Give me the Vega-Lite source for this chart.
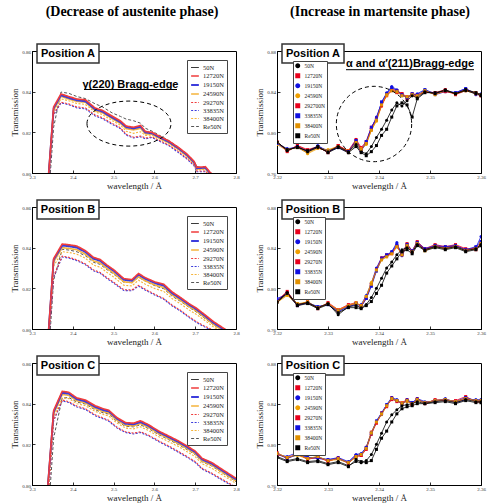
{
"$schema":"https://vega.github.io/schema/vega-lite/v6.json",
"padding":{"left":10,"top":4,"right":2,"bottom":2},
"config":{"font":"Liberation Serif","view":{"stroke":"black","strokeWidth":1},
"legend":{"labelFont":"Liberation Serif","labelColor":"#222","strokeColor":"#444","fillColor":"white","rowPadding":0,"symbolSize":12},
"axis":{"grid":false,"domainColor":"black","domainWidth":1,"tickColor":"black","tickSize":-3,"tickWidth":0.8,"labelFont":"Liberation Serif","labelFontSize":5,"labelColor":"#333","labelPadding":4.5,"labelFlush":false,"titleFont":"Liberation Serif","titleFontSize":9,"titleFontWeight":"normal","titleColor":"#222","titlePadding":2}},
"columns":2,"bounds":"flush","spacing":{"row":34,"column":41},
"resolve":{"scale":{"x":"independent","y":"independent","color":"independent","strokeDash":"independent","strokeWidth":"independent","shape":"independent"}},
"datasets":{
"LA":[
{"s":"Re50N","x":2.345,"y":0.8},{"s":"Re50N","x":2.353,"y":0.8225},{"s":"Re50N","x":2.371,"y":0.8398},{"s":"Re50N","x":2.39,"y":0.8392},{"s":"Re50N","x":2.41,"y":0.8376},{"s":"Re50N","x":2.431,"y":0.8366},{"s":"Re50N","x":2.455,"y":0.834},{"s":"Re50N","x":2.472,"y":0.8326},{"s":"Re50N","x":2.496,"y":0.8296},{"s":"Re50N","x":2.517,"y":0.8278},{"s":"Re50N","x":2.531,"y":0.8265},{"s":"Re50N","x":2.549,"y":0.8257},{"s":"Re50N","x":2.566,"y":0.8245},{"s":"Re50N","x":2.578,"y":0.822},{"s":"Re50N","x":2.594,"y":0.8206},{"s":"Re50N","x":2.61,"y":0.8188},{"s":"Re50N","x":2.635,"y":0.816},{"s":"Re50N","x":2.659,"y":0.8126},{"s":"Re50N","x":2.68,"y":0.8092},{"s":"Re50N","x":2.697,"y":0.8058},{"s":"Re50N","x":2.704,"y":0.8032},{"s":"Re50N","x":2.725,"y":0.8022},{"s":"Re50N","x":2.737,"y":0.8},{"s":"Re50N","x":2.747,"y":0.7985},
{"s":"33835N","x":2.343,"y":0.8},{"s":"33835N","x":2.353,"y":0.8285},{"s":"33835N","x":2.371,"y":0.8345},{"s":"33835N","x":2.39,"y":0.8336},{"s":"33835N","x":2.41,"y":0.832},{"s":"33835N","x":2.431,"y":0.8315},{"s":"33835N","x":2.455,"y":0.828},{"s":"33835N","x":2.472,"y":0.8268},{"s":"33835N","x":2.496,"y":0.824},{"s":"33835N","x":2.517,"y":0.8218},{"s":"33835N","x":2.531,"y":0.8186},{"s":"33835N","x":2.549,"y":0.8172},{"s":"33835N","x":2.566,"y":0.8178},{"s":"33835N","x":2.578,"y":0.8168},{"s":"33835N","x":2.594,"y":0.8175},{"s":"33835N","x":2.61,"y":0.8158},{"s":"33835N","x":2.635,"y":0.8135},{"s":"33835N","x":2.659,"y":0.81},{"s":"33835N","x":2.68,"y":0.8068},{"s":"33835N","x":2.697,"y":0.8036},{"s":"33835N","x":2.704,"y":0.8006},{"s":"33835N","x":2.725,"y":0.8006},{"s":"33835N","x":2.737,"y":0.798},{"s":"33835N","x":2.747,"y":0.7965},
{"s":"29270N","x":2.343,"y":0.8},{"s":"29270N","x":2.353,"y":0.829},{"s":"29270N","x":2.371,"y":0.8348},{"s":"29270N","x":2.39,"y":0.834},{"s":"29270N","x":2.41,"y":0.8325},{"s":"29270N","x":2.431,"y":0.832},{"s":"29270N","x":2.455,"y":0.8285},{"s":"29270N","x":2.472,"y":0.8272},{"s":"29270N","x":2.496,"y":0.8245},{"s":"29270N","x":2.517,"y":0.8222},{"s":"29270N","x":2.531,"y":0.819},{"s":"29270N","x":2.549,"y":0.8176},{"s":"29270N","x":2.566,"y":0.8182},{"s":"29270N","x":2.578,"y":0.8172},{"s":"29270N","x":2.594,"y":0.8178},{"s":"29270N","x":2.61,"y":0.8162},{"s":"29270N","x":2.635,"y":0.8138},{"s":"29270N","x":2.659,"y":0.8105},{"s":"29270N","x":2.68,"y":0.8072},{"s":"29270N","x":2.697,"y":0.804},{"s":"29270N","x":2.704,"y":0.801},{"s":"29270N","x":2.725,"y":0.801},{"s":"29270N","x":2.737,"y":0.7985},{"s":"29270N","x":2.747,"y":0.797},
{"s":"38400N","x":2.342,"y":0.8},{"s":"38400N","x":2.353,"y":0.83},{"s":"38400N","x":2.371,"y":0.8365},{"s":"38400N","x":2.39,"y":0.8355},{"s":"38400N","x":2.41,"y":0.8342},{"s":"38400N","x":2.431,"y":0.8337},{"s":"38400N","x":2.455,"y":0.83},{"s":"38400N","x":2.472,"y":0.8288},{"s":"38400N","x":2.496,"y":0.8258},{"s":"38400N","x":2.517,"y":0.8235},{"s":"38400N","x":2.531,"y":0.8205},{"s":"38400N","x":2.549,"y":0.8195},{"s":"38400N","x":2.566,"y":0.8203},{"s":"38400N","x":2.578,"y":0.8185},{"s":"38400N","x":2.594,"y":0.8186},{"s":"38400N","x":2.61,"y":0.817},{"s":"38400N","x":2.635,"y":0.8146},{"s":"38400N","x":2.659,"y":0.8113},{"s":"38400N","x":2.68,"y":0.808},{"s":"38400N","x":2.697,"y":0.8046},{"s":"38400N","x":2.704,"y":0.8016},{"s":"38400N","x":2.725,"y":0.8018},{"s":"38400N","x":2.737,"y":0.7992},{"s":"38400N","x":2.747,"y":0.7978},
{"s":"24590N","x":2.341,"y":0.8},{"s":"24590N","x":2.353,"y":0.831},{"s":"24590N","x":2.371,"y":0.8377},{"s":"24590N","x":2.39,"y":0.8364},{"s":"24590N","x":2.41,"y":0.8352},{"s":"24590N","x":2.431,"y":0.8348},{"s":"24590N","x":2.455,"y":0.8307},{"s":"24590N","x":2.472,"y":0.8297},{"s":"24590N","x":2.496,"y":0.8268},{"s":"24590N","x":2.517,"y":0.8244},{"s":"24590N","x":2.531,"y":0.8218},{"s":"24590N","x":2.549,"y":0.8212},{"s":"24590N","x":2.566,"y":0.822},{"s":"24590N","x":2.578,"y":0.8193},{"s":"24590N","x":2.594,"y":0.819},{"s":"24590N","x":2.61,"y":0.8174},{"s":"24590N","x":2.635,"y":0.8149},{"s":"24590N","x":2.659,"y":0.8117},{"s":"24590N","x":2.68,"y":0.8084},{"s":"24590N","x":2.697,"y":0.8049},{"s":"24590N","x":2.704,"y":0.8019},{"s":"24590N","x":2.725,"y":0.8022},{"s":"24590N","x":2.737,"y":0.7995},{"s":"24590N","x":2.747,"y":0.798},
{"s":"50N","x":2.341,"y":0.8},{"s":"50N","x":2.353,"y":0.832},{"s":"50N","x":2.371,"y":0.8385},{"s":"50N","x":2.39,"y":0.8372},{"s":"50N","x":2.41,"y":0.836},{"s":"50N","x":2.431,"y":0.8356},{"s":"50N","x":2.455,"y":0.8315},{"s":"50N","x":2.472,"y":0.8305},{"s":"50N","x":2.496,"y":0.8276},{"s":"50N","x":2.517,"y":0.8252},{"s":"50N","x":2.531,"y":0.8228},{"s":"50N","x":2.549,"y":0.8222},{"s":"50N","x":2.566,"y":0.823},{"s":"50N","x":2.578,"y":0.8201},{"s":"50N","x":2.594,"y":0.8197},{"s":"50N","x":2.61,"y":0.818},{"s":"50N","x":2.635,"y":0.8155},{"s":"50N","x":2.659,"y":0.8123},{"s":"50N","x":2.68,"y":0.809},{"s":"50N","x":2.697,"y":0.8055},{"s":"50N","x":2.704,"y":0.8025},{"s":"50N","x":2.725,"y":0.8028},{"s":"50N","x":2.737,"y":0.8},{"s":"50N","x":2.747,"y":0.7985},
{"s":"19150N","x":2.341,"y":0.8},{"s":"19150N","x":2.353,"y":0.8318},{"s":"19150N","x":2.371,"y":0.8382},{"s":"19150N","x":2.39,"y":0.8369},{"s":"19150N","x":2.41,"y":0.8357},{"s":"19150N","x":2.431,"y":0.8352},{"s":"19150N","x":2.455,"y":0.8312},{"s":"19150N","x":2.472,"y":0.8302},{"s":"19150N","x":2.496,"y":0.8273},{"s":"19150N","x":2.517,"y":0.8249},{"s":"19150N","x":2.531,"y":0.8225},{"s":"19150N","x":2.549,"y":0.8219},{"s":"19150N","x":2.566,"y":0.8227},{"s":"19150N","x":2.578,"y":0.8199},{"s":"19150N","x":2.594,"y":0.8195},{"s":"19150N","x":2.61,"y":0.8178},{"s":"19150N","x":2.635,"y":0.8153},{"s":"19150N","x":2.659,"y":0.8121},{"s":"19150N","x":2.68,"y":0.8088},{"s":"19150N","x":2.697,"y":0.8053},{"s":"19150N","x":2.704,"y":0.8023},{"s":"19150N","x":2.725,"y":0.8026},{"s":"19150N","x":2.737,"y":0.7998},{"s":"19150N","x":2.747,"y":0.7983},
{"s":"12720N","x":2.341,"y":0.8},{"s":"12720N","x":2.353,"y":0.8325},{"s":"12720N","x":2.371,"y":0.8389},{"s":"12720N","x":2.39,"y":0.8376},{"s":"12720N","x":2.41,"y":0.8364},{"s":"12720N","x":2.431,"y":0.836},{"s":"12720N","x":2.455,"y":0.8319},{"s":"12720N","x":2.472,"y":0.8309},{"s":"12720N","x":2.496,"y":0.828},{"s":"12720N","x":2.517,"y":0.8256},{"s":"12720N","x":2.531,"y":0.8231},{"s":"12720N","x":2.549,"y":0.8225},{"s":"12720N","x":2.566,"y":0.8234},{"s":"12720N","x":2.578,"y":0.8204},{"s":"12720N","x":2.594,"y":0.82},{"s":"12720N","x":2.61,"y":0.8183},{"s":"12720N","x":2.635,"y":0.8158},{"s":"12720N","x":2.659,"y":0.8126},{"s":"12720N","x":2.68,"y":0.8093},{"s":"12720N","x":2.697,"y":0.8058},{"s":"12720N","x":2.704,"y":0.8028},{"s":"12720N","x":2.725,"y":0.8031},{"s":"12720N","x":2.737,"y":0.8002},{"s":"12720N","x":2.747,"y":0.7987}
],
"LB":[
{"s":"Re50N","x":2.345,"y":0.8},{"s":"Re50N","x":2.353,"y":0.824},{"s":"Re50N","x":2.374,"y":0.8392},{"s":"Re50N","x":2.392,"y":0.8388},{"s":"Re50N","x":2.41,"y":0.838},{"s":"Re50N","x":2.431,"y":0.836},{"s":"Re50N","x":2.451,"y":0.8328},{"s":"Re50N","x":2.467,"y":0.8318},{"s":"Re50N","x":2.484,"y":0.8292},{"s":"Re50N","x":2.5,"y":0.827},{"s":"Re50N","x":2.525,"y":0.823},{"s":"Re50N","x":2.545,"y":0.8228},{"s":"Re50N","x":2.561,"y":0.8255},{"s":"Re50N","x":2.578,"y":0.8235},{"s":"Re50N","x":2.602,"y":0.8212},{"s":"Re50N","x":2.623,"y":0.8198},{"s":"Re50N","x":2.643,"y":0.8162},{"s":"Re50N","x":2.664,"y":0.8136},{"s":"Re50N","x":2.684,"y":0.8108},{"s":"Re50N","x":2.704,"y":0.8082},{"s":"Re50N","x":2.725,"y":0.805},{"s":"Re50N","x":2.745,"y":0.802},{"s":"Re50N","x":2.77,"y":0.7988},{"s":"Re50N","x":2.785,"y":0.797},
{"s":"33835N","x":2.343,"y":0.8},{"s":"33835N","x":2.353,"y":0.8255},{"s":"33835N","x":2.374,"y":0.8354},{"s":"33835N","x":2.392,"y":0.8348},{"s":"33835N","x":2.41,"y":0.8336},{"s":"33835N","x":2.431,"y":0.8316},{"s":"33835N","x":2.451,"y":0.8286},{"s":"33835N","x":2.467,"y":0.8274},{"s":"33835N","x":2.484,"y":0.8248},{"s":"33835N","x":2.5,"y":0.8226},{"s":"33835N","x":2.525,"y":0.8189},{"s":"33835N","x":2.545,"y":0.8188},{"s":"33835N","x":2.561,"y":0.8211},{"s":"33835N","x":2.578,"y":0.8191},{"s":"33835N","x":2.602,"y":0.8166},{"s":"33835N","x":2.623,"y":0.8146},{"s":"33835N","x":2.643,"y":0.8114},{"s":"33835N","x":2.664,"y":0.8088},{"s":"33835N","x":2.684,"y":0.8058},{"s":"33835N","x":2.704,"y":0.8031},{"s":"33835N","x":2.725,"y":0.8008},{"s":"33835N","x":2.745,"y":0.799},{"s":"33835N","x":2.77,"y":0.7965},{"s":"33835N","x":2.785,"y":0.7955},
{"s":"29270N","x":2.343,"y":0.8},{"s":"29270N","x":2.353,"y":0.826},{"s":"29270N","x":2.374,"y":0.8358},{"s":"29270N","x":2.392,"y":0.8352},{"s":"29270N","x":2.41,"y":0.834},{"s":"29270N","x":2.431,"y":0.832},{"s":"29270N","x":2.451,"y":0.829},{"s":"29270N","x":2.467,"y":0.8278},{"s":"29270N","x":2.484,"y":0.8252},{"s":"29270N","x":2.5,"y":0.823},{"s":"29270N","x":2.525,"y":0.8193},{"s":"29270N","x":2.545,"y":0.8192},{"s":"29270N","x":2.561,"y":0.8215},{"s":"29270N","x":2.578,"y":0.8195},{"s":"29270N","x":2.602,"y":0.817},{"s":"29270N","x":2.623,"y":0.815},{"s":"29270N","x":2.643,"y":0.8118},{"s":"29270N","x":2.664,"y":0.8092},{"s":"29270N","x":2.684,"y":0.8062},{"s":"29270N","x":2.704,"y":0.8035},{"s":"29270N","x":2.725,"y":0.8012},{"s":"29270N","x":2.745,"y":0.7995},{"s":"29270N","x":2.77,"y":0.797},{"s":"29270N","x":2.785,"y":0.796},
{"s":"38400N","x":2.342,"y":0.8},{"s":"38400N","x":2.353,"y":0.831},{"s":"38400N","x":2.374,"y":0.838},{"s":"38400N","x":2.392,"y":0.8376},{"s":"38400N","x":2.41,"y":0.8368},{"s":"38400N","x":2.431,"y":0.8348},{"s":"38400N","x":2.451,"y":0.8314},{"s":"38400N","x":2.467,"y":0.8304},{"s":"38400N","x":2.484,"y":0.8278},{"s":"38400N","x":2.5,"y":0.8256},{"s":"38400N","x":2.525,"y":0.8215},{"s":"38400N","x":2.545,"y":0.8212},{"s":"38400N","x":2.561,"y":0.824},{"s":"38400N","x":2.578,"y":0.822},{"s":"38400N","x":2.602,"y":0.8198},{"s":"38400N","x":2.623,"y":0.8185},{"s":"38400N","x":2.643,"y":0.815},{"s":"38400N","x":2.664,"y":0.8124},{"s":"38400N","x":2.684,"y":0.8095},{"s":"38400N","x":2.704,"y":0.807},{"s":"38400N","x":2.725,"y":0.804},{"s":"38400N","x":2.745,"y":0.801},{"s":"38400N","x":2.77,"y":0.798},{"s":"38400N","x":2.785,"y":0.7965},
{"s":"24590N","x":2.341,"y":0.8},{"s":"24590N","x":2.353,"y":0.833},{"s":"24590N","x":2.374,"y":0.84},{"s":"24590N","x":2.392,"y":0.8396},{"s":"24590N","x":2.41,"y":0.839},{"s":"24590N","x":2.431,"y":0.8368},{"s":"24590N","x":2.451,"y":0.8335},{"s":"24590N","x":2.467,"y":0.8325},{"s":"24590N","x":2.484,"y":0.8298},{"s":"24590N","x":2.5,"y":0.8276},{"s":"24590N","x":2.525,"y":0.8232},{"s":"24590N","x":2.545,"y":0.8228},{"s":"24590N","x":2.561,"y":0.8257},{"s":"24590N","x":2.578,"y":0.8237},{"s":"24590N","x":2.602,"y":0.8216},{"s":"24590N","x":2.623,"y":0.8204},{"s":"24590N","x":2.643,"y":0.8168},{"s":"24590N","x":2.664,"y":0.8141},{"s":"24590N","x":2.684,"y":0.8112},{"s":"24590N","x":2.704,"y":0.8087},{"s":"24590N","x":2.725,"y":0.8054},{"s":"24590N","x":2.745,"y":0.8022},{"s":"24590N","x":2.77,"y":0.799},{"s":"24590N","x":2.785,"y":0.7972},
{"s":"50N","x":2.341,"y":0.8},{"s":"50N","x":2.353,"y":0.8343},{"s":"50N","x":2.374,"y":0.8414},{"s":"50N","x":2.392,"y":0.841},{"s":"50N","x":2.41,"y":0.8404},{"s":"50N","x":2.431,"y":0.8381},{"s":"50N","x":2.451,"y":0.8348},{"s":"50N","x":2.467,"y":0.8338},{"s":"50N","x":2.484,"y":0.8311},{"s":"50N","x":2.5,"y":0.8289},{"s":"50N","x":2.525,"y":0.8245},{"s":"50N","x":2.545,"y":0.824},{"s":"50N","x":2.561,"y":0.827},{"s":"50N","x":2.578,"y":0.825},{"s":"50N","x":2.602,"y":0.8229},{"s":"50N","x":2.623,"y":0.8217},{"s":"50N","x":2.643,"y":0.818},{"s":"50N","x":2.664,"y":0.8152},{"s":"50N","x":2.684,"y":0.8123},{"s":"50N","x":2.704,"y":0.8098},{"s":"50N","x":2.725,"y":0.8065},{"s":"50N","x":2.745,"y":0.8033},{"s":"50N","x":2.77,"y":0.8},{"s":"50N","x":2.785,"y":0.798},
{"s":"19150N","x":2.341,"y":0.8},{"s":"19150N","x":2.353,"y":0.834},{"s":"19150N","x":2.374,"y":0.841},{"s":"19150N","x":2.392,"y":0.8406},{"s":"19150N","x":2.41,"y":0.84},{"s":"19150N","x":2.431,"y":0.8378},{"s":"19150N","x":2.451,"y":0.8345},{"s":"19150N","x":2.467,"y":0.8335},{"s":"19150N","x":2.484,"y":0.8308},{"s":"19150N","x":2.5,"y":0.8286},{"s":"19150N","x":2.525,"y":0.8242},{"s":"19150N","x":2.545,"y":0.8237},{"s":"19150N","x":2.561,"y":0.8267},{"s":"19150N","x":2.578,"y":0.8246},{"s":"19150N","x":2.602,"y":0.8225},{"s":"19150N","x":2.623,"y":0.8213},{"s":"19150N","x":2.643,"y":0.8176},{"s":"19150N","x":2.664,"y":0.8149},{"s":"19150N","x":2.684,"y":0.812},{"s":"19150N","x":2.704,"y":0.8095},{"s":"19150N","x":2.725,"y":0.8062},{"s":"19150N","x":2.745,"y":0.803},{"s":"19150N","x":2.77,"y":0.7997},{"s":"19150N","x":2.785,"y":0.7977},
{"s":"12720N","x":2.341,"y":0.8},{"s":"12720N","x":2.353,"y":0.8346},{"s":"12720N","x":2.374,"y":0.8418},{"s":"12720N","x":2.392,"y":0.8414},{"s":"12720N","x":2.41,"y":0.8408},{"s":"12720N","x":2.431,"y":0.8385},{"s":"12720N","x":2.451,"y":0.8352},{"s":"12720N","x":2.467,"y":0.8342},{"s":"12720N","x":2.484,"y":0.8314},{"s":"12720N","x":2.5,"y":0.8292},{"s":"12720N","x":2.525,"y":0.8248},{"s":"12720N","x":2.545,"y":0.8243},{"s":"12720N","x":2.561,"y":0.8273},{"s":"12720N","x":2.578,"y":0.8252},{"s":"12720N","x":2.602,"y":0.8231},{"s":"12720N","x":2.623,"y":0.822},{"s":"12720N","x":2.643,"y":0.8183},{"s":"12720N","x":2.664,"y":0.8155},{"s":"12720N","x":2.684,"y":0.8126},{"s":"12720N","x":2.704,"y":0.8101},{"s":"12720N","x":2.725,"y":0.8068},{"s":"12720N","x":2.745,"y":0.8036},{"s":"12720N","x":2.77,"y":0.8003},{"s":"12720N","x":2.785,"y":0.7983}
],
"LC":[
{"s":"Re50N","x":2.345,"y":0.8},{"s":"Re50N","x":2.353,"y":0.823},{"s":"Re50N","x":2.374,"y":0.8428},{"s":"Re50N","x":2.39,"y":0.843},{"s":"Re50N","x":2.41,"y":0.8408},{"s":"Re50N","x":2.431,"y":0.8398},{"s":"Re50N","x":2.455,"y":0.837},{"s":"Re50N","x":2.476,"y":0.8354},{"s":"Re50N","x":2.488,"y":0.8349},{"s":"Re50N","x":2.508,"y":0.8313},{"s":"Re50N","x":2.529,"y":0.8289},{"s":"Re50N","x":2.549,"y":0.8286},{"s":"Re50N","x":2.566,"y":0.8296},{"s":"Re50N","x":2.586,"y":0.8277},{"s":"Re50N","x":2.61,"y":0.8248},{"s":"Re50N","x":2.635,"y":0.8223},{"s":"Re50N","x":2.659,"y":0.8199},{"s":"Re50N","x":2.68,"y":0.8174},{"s":"Re50N","x":2.7,"y":0.815},{"s":"Re50N","x":2.717,"y":0.8114},{"s":"Re50N","x":2.741,"y":0.8093},{"s":"Re50N","x":2.766,"y":0.806},{"s":"Re50N","x":2.8,"y":0.8016},
{"s":"33835N","x":2.342,"y":0.8},{"s":"33835N","x":2.353,"y":0.8315},{"s":"33835N","x":2.374,"y":0.8414},{"s":"33835N","x":2.39,"y":0.8406},{"s":"33835N","x":2.41,"y":0.8384},{"s":"33835N","x":2.431,"y":0.8371},{"s":"33835N","x":2.455,"y":0.8341},{"s":"33835N","x":2.476,"y":0.8324},{"s":"33835N","x":2.488,"y":0.8314},{"s":"33835N","x":2.508,"y":0.8281},{"s":"33835N","x":2.529,"y":0.8258},{"s":"33835N","x":2.549,"y":0.8251},{"s":"33835N","x":2.566,"y":0.8258},{"s":"33835N","x":2.586,"y":0.8241},{"s":"33835N","x":2.61,"y":0.8214},{"s":"33835N","x":2.635,"y":0.8188},{"s":"33835N","x":2.659,"y":0.8161},{"s":"33835N","x":2.68,"y":0.8136},{"s":"33835N","x":2.7,"y":0.8111},{"s":"33835N","x":2.717,"y":0.8078},{"s":"33835N","x":2.741,"y":0.8054},{"s":"33835N","x":2.766,"y":0.8024},{"s":"33835N","x":2.8,"y":0.7985},
{"s":"29270N","x":2.342,"y":0.8},{"s":"29270N","x":2.353,"y":0.832},{"s":"29270N","x":2.374,"y":0.8418},{"s":"29270N","x":2.39,"y":0.841},{"s":"29270N","x":2.41,"y":0.8388},{"s":"29270N","x":2.431,"y":0.8375},{"s":"29270N","x":2.455,"y":0.8345},{"s":"29270N","x":2.476,"y":0.8328},{"s":"29270N","x":2.488,"y":0.8318},{"s":"29270N","x":2.508,"y":0.8285},{"s":"29270N","x":2.529,"y":0.8262},{"s":"29270N","x":2.549,"y":0.8255},{"s":"29270N","x":2.566,"y":0.8262},{"s":"29270N","x":2.586,"y":0.8245},{"s":"29270N","x":2.61,"y":0.8218},{"s":"29270N","x":2.635,"y":0.8192},{"s":"29270N","x":2.659,"y":0.8165},{"s":"29270N","x":2.68,"y":0.814},{"s":"29270N","x":2.7,"y":0.8115},{"s":"29270N","x":2.717,"y":0.8082},{"s":"29270N","x":2.741,"y":0.8058},{"s":"29270N","x":2.766,"y":0.8028},{"s":"29270N","x":2.8,"y":0.799},
{"s":"38400N","x":2.341,"y":0.8},{"s":"38400N","x":2.353,"y":0.8335},{"s":"38400N","x":2.374,"y":0.8428},{"s":"38400N","x":2.39,"y":0.8425},{"s":"38400N","x":2.41,"y":0.84},{"s":"38400N","x":2.431,"y":0.839},{"s":"38400N","x":2.455,"y":0.8362},{"s":"38400N","x":2.476,"y":0.8346},{"s":"38400N","x":2.488,"y":0.834},{"s":"38400N","x":2.508,"y":0.8305},{"s":"38400N","x":2.529,"y":0.828},{"s":"38400N","x":2.549,"y":0.8276},{"s":"38400N","x":2.566,"y":0.8286},{"s":"38400N","x":2.586,"y":0.8268},{"s":"38400N","x":2.61,"y":0.8238},{"s":"38400N","x":2.635,"y":0.8213},{"s":"38400N","x":2.659,"y":0.8189},{"s":"38400N","x":2.68,"y":0.8164},{"s":"38400N","x":2.7,"y":0.8139},{"s":"38400N","x":2.717,"y":0.8104},{"s":"38400N","x":2.741,"y":0.8082},{"s":"38400N","x":2.766,"y":0.805},{"s":"38400N","x":2.8,"y":0.8008},
{"s":"24590N","x":2.339,"y":0.8},{"s":"24590N","x":2.353,"y":0.835},{"s":"24590N","x":2.374,"y":0.8445},{"s":"24590N","x":2.39,"y":0.8441},{"s":"24590N","x":2.41,"y":0.8414},{"s":"24590N","x":2.431,"y":0.8404},{"s":"24590N","x":2.455,"y":0.8376},{"s":"24590N","x":2.476,"y":0.836},{"s":"24590N","x":2.488,"y":0.8355},{"s":"24590N","x":2.508,"y":0.8319},{"s":"24590N","x":2.529,"y":0.8294},{"s":"24590N","x":2.549,"y":0.8291},{"s":"24590N","x":2.566,"y":0.8302},{"s":"24590N","x":2.586,"y":0.8283},{"s":"24590N","x":2.61,"y":0.8253},{"s":"24590N","x":2.635,"y":0.8228},{"s":"24590N","x":2.659,"y":0.8204},{"s":"24590N","x":2.68,"y":0.8179},{"s":"24590N","x":2.7,"y":0.8154},{"s":"24590N","x":2.717,"y":0.8118},{"s":"24590N","x":2.741,"y":0.8097},{"s":"24590N","x":2.766,"y":0.8064},{"s":"24590N","x":2.8,"y":0.802},
{"s":"50N","x":2.339,"y":0.8},{"s":"50N","x":2.353,"y":0.8362},{"s":"50N","x":2.374,"y":0.8457},{"s":"50N","x":2.39,"y":0.8452},{"s":"50N","x":2.41,"y":0.8424},{"s":"50N","x":2.431,"y":0.8414},{"s":"50N","x":2.455,"y":0.8386},{"s":"50N","x":2.476,"y":0.837},{"s":"50N","x":2.488,"y":0.8365},{"s":"50N","x":2.508,"y":0.8329},{"s":"50N","x":2.529,"y":0.8304},{"s":"50N","x":2.549,"y":0.8301},{"s":"50N","x":2.566,"y":0.8312},{"s":"50N","x":2.586,"y":0.8293},{"s":"50N","x":2.61,"y":0.8263},{"s":"50N","x":2.635,"y":0.8238},{"s":"50N","x":2.659,"y":0.8214},{"s":"50N","x":2.68,"y":0.8189},{"s":"50N","x":2.7,"y":0.8164},{"s":"50N","x":2.717,"y":0.8128},{"s":"50N","x":2.741,"y":0.8107},{"s":"50N","x":2.766,"y":0.8074},{"s":"50N","x":2.8,"y":0.803},
{"s":"19150N","x":2.339,"y":0.8},{"s":"19150N","x":2.353,"y":0.8358},{"s":"19150N","x":2.374,"y":0.8453},{"s":"19150N","x":2.39,"y":0.8449},{"s":"19150N","x":2.41,"y":0.8421},{"s":"19150N","x":2.431,"y":0.841},{"s":"19150N","x":2.455,"y":0.8383},{"s":"19150N","x":2.476,"y":0.8367},{"s":"19150N","x":2.488,"y":0.8362},{"s":"19150N","x":2.508,"y":0.8326},{"s":"19150N","x":2.529,"y":0.8301},{"s":"19150N","x":2.549,"y":0.8298},{"s":"19150N","x":2.566,"y":0.8309},{"s":"19150N","x":2.586,"y":0.829},{"s":"19150N","x":2.61,"y":0.826},{"s":"19150N","x":2.635,"y":0.8235},{"s":"19150N","x":2.659,"y":0.8211},{"s":"19150N","x":2.68,"y":0.8186},{"s":"19150N","x":2.7,"y":0.8161},{"s":"19150N","x":2.717,"y":0.8125},{"s":"19150N","x":2.741,"y":0.8104},{"s":"19150N","x":2.766,"y":0.8071},{"s":"19150N","x":2.8,"y":0.8027},
{"s":"12720N","x":2.339,"y":0.8},{"s":"12720N","x":2.353,"y":0.8366},{"s":"12720N","x":2.374,"y":0.8461},{"s":"12720N","x":2.39,"y":0.8456},{"s":"12720N","x":2.41,"y":0.8428},{"s":"12720N","x":2.431,"y":0.8418},{"s":"12720N","x":2.455,"y":0.839},{"s":"12720N","x":2.476,"y":0.8374},{"s":"12720N","x":2.488,"y":0.8368},{"s":"12720N","x":2.508,"y":0.8332},{"s":"12720N","x":2.529,"y":0.8307},{"s":"12720N","x":2.549,"y":0.8304},{"s":"12720N","x":2.566,"y":0.8316},{"s":"12720N","x":2.586,"y":0.8296},{"s":"12720N","x":2.61,"y":0.8266},{"s":"12720N","x":2.635,"y":0.8241},{"s":"12720N","x":2.659,"y":0.8217},{"s":"12720N","x":2.68,"y":0.8192},{"s":"12720N","x":2.7,"y":0.8167},{"s":"12720N","x":2.717,"y":0.8131},{"s":"12720N","x":2.741,"y":0.811},{"s":"12720N","x":2.766,"y":0.8077},{"s":"12720N","x":2.8,"y":0.8033}
],
"RA":[
{"s":"12720N","x":2.32,"y":0.791},{"s":"12720N","x":2.322,"y":0.781},{"s":"12720N","x":2.324,"y":0.787},{"s":"12720N","x":2.326,"y":0.783},{"s":"12720N","x":2.328,"y":0.786},{"s":"12720N","x":2.33,"y":0.78},{"s":"12720N","x":2.332,"y":0.787},{"s":"12720N","x":2.334,"y":0.782},{"s":"12720N","x":2.3355,"y":0.793},{"s":"12720N","x":2.3365,"y":0.785},{"s":"12720N","x":2.3375,"y":0.791},{"s":"12720N","x":2.3385,"y":0.805},{"s":"12720N","x":2.3395,"y":0.814},{"s":"12720N","x":2.3405,"y":0.828},{"s":"12720N","x":2.3415,"y":0.836},{"s":"12720N","x":2.3425,"y":0.841},{"s":"12720N","x":2.3435,"y":0.839},{"s":"12720N","x":2.3445,"y":0.838},{"s":"12720N","x":2.3455,"y":0.833},{"s":"12720N","x":2.3465,"y":0.838},{"s":"12720N","x":2.3475,"y":0.837},{"s":"12720N","x":2.349,"y":0.84},{"s":"12720N","x":2.351,"y":0.839},{"s":"12720N","x":2.353,"y":0.842},{"s":"12720N","x":2.355,"y":0.837},{"s":"12720N","x":2.357,"y":0.841},{"s":"12720N","x":2.359,"y":0.839},{"s":"12720N","x":2.36,"y":0.836},
{"s":"19150N","x":2.32,"y":0.789},{"s":"19150N","x":2.322,"y":0.784},{"s":"19150N","x":2.324,"y":0.785},{"s":"19150N","x":2.326,"y":0.78},{"s":"19150N","x":2.328,"y":0.787},{"s":"19150N","x":2.33,"y":0.781},{"s":"19150N","x":2.332,"y":0.785},{"s":"19150N","x":2.334,"y":0.78},{"s":"19150N","x":2.3355,"y":0.791},{"s":"19150N","x":2.3365,"y":0.782},{"s":"19150N","x":2.3375,"y":0.789},{"s":"19150N","x":2.3385,"y":0.804},{"s":"19150N","x":2.3395,"y":0.815},{"s":"19150N","x":2.3405,"y":0.829},{"s":"19150N","x":2.3415,"y":0.839},{"s":"19150N","x":2.3425,"y":0.845},{"s":"19150N","x":2.3435,"y":0.842},{"s":"19150N","x":2.3445,"y":0.836},{"s":"19150N","x":2.3455,"y":0.835},{"s":"19150N","x":2.3465,"y":0.836},{"s":"19150N","x":2.3475,"y":0.838},{"s":"19150N","x":2.349,"y":0.842},{"s":"19150N","x":2.351,"y":0.837},{"s":"19150N","x":2.353,"y":0.84},{"s":"19150N","x":2.355,"y":0.839},{"s":"19150N","x":2.357,"y":0.843},{"s":"19150N","x":2.359,"y":0.837},{"s":"19150N","x":2.36,"y":0.838},
{"s":"24590N","x":2.32,"y":0.788},{"s":"24590N","x":2.322,"y":0.782},{"s":"24590N","x":2.324,"y":0.786},{"s":"24590N","x":2.326,"y":0.779},{"s":"24590N","x":2.328,"y":0.784},{"s":"24590N","x":2.33,"y":0.783},{"s":"24590N","x":2.332,"y":0.786},{"s":"24590N","x":2.334,"y":0.782},{"s":"24590N","x":2.3355,"y":0.791},{"s":"24590N","x":2.3365,"y":0.784},{"s":"24590N","x":2.3375,"y":0.788},{"s":"24590N","x":2.3385,"y":0.802},{"s":"24590N","x":2.3395,"y":0.811},{"s":"24590N","x":2.3405,"y":0.826},{"s":"24590N","x":2.3415,"y":0.836},{"s":"24590N","x":2.3425,"y":0.841},{"s":"24590N","x":2.3435,"y":0.84},{"s":"24590N","x":2.3445,"y":0.837},{"s":"24590N","x":2.3455,"y":0.834},{"s":"24590N","x":2.3465,"y":0.836},{"s":"24590N","x":2.3475,"y":0.835},{"s":"24590N","x":2.349,"y":0.841},{"s":"24590N","x":2.351,"y":0.838},{"s":"24590N","x":2.353,"y":0.841},{"s":"24590N","x":2.355,"y":0.838},{"s":"24590N","x":2.357,"y":0.842},{"s":"24590N","x":2.359,"y":0.839},{"s":"24590N","x":2.36,"y":0.837},
{"s":"29270N","x":2.32,"y":0.79},{"s":"29270N","x":2.322,"y":0.782},{"s":"29270N","x":2.324,"y":0.787},{"s":"29270N","x":2.326,"y":0.782},{"s":"29270N","x":2.328,"y":0.785},{"s":"29270N","x":2.33,"y":0.781},{"s":"29270N","x":2.332,"y":0.787},{"s":"29270N","x":2.334,"y":0.781},{"s":"29270N","x":2.3355,"y":0.792},{"s":"29270N","x":2.3365,"y":0.783},{"s":"29270N","x":2.3375,"y":0.79},{"s":"29270N","x":2.3385,"y":0.803},{"s":"29270N","x":2.3395,"y":0.813},{"s":"29270N","x":2.3405,"y":0.826},{"s":"29270N","x":2.3415,"y":0.837},{"s":"29270N","x":2.3425,"y":0.842},{"s":"29270N","x":2.3435,"y":0.841},{"s":"29270N","x":2.3445,"y":0.838},{"s":"29270N","x":2.3455,"y":0.835},{"s":"29270N","x":2.3465,"y":0.837},{"s":"29270N","x":2.3475,"y":0.836},{"s":"29270N","x":2.349,"y":0.84},{"s":"29270N","x":2.351,"y":0.838},{"s":"29270N","x":2.353,"y":0.84},{"s":"29270N","x":2.355,"y":0.838},{"s":"29270N","x":2.357,"y":0.842},{"s":"29270N","x":2.359,"y":0.838},{"s":"29270N","x":2.36,"y":0.836},
{"s":"33835N","x":2.32,"y":0.789},{"s":"33835N","x":2.322,"y":0.783},{"s":"33835N","x":2.324,"y":0.786},{"s":"33835N","x":2.326,"y":0.781},{"s":"33835N","x":2.328,"y":0.786},{"s":"33835N","x":2.33,"y":0.782},{"s":"33835N","x":2.332,"y":0.785},{"s":"33835N","x":2.334,"y":0.781},{"s":"33835N","x":2.3355,"y":0.792},{"s":"33835N","x":2.3365,"y":0.782},{"s":"33835N","x":2.3375,"y":0.791},{"s":"33835N","x":2.3385,"y":0.805},{"s":"33835N","x":2.3395,"y":0.813},{"s":"33835N","x":2.3405,"y":0.83},{"s":"33835N","x":2.3415,"y":0.838},{"s":"33835N","x":2.3425,"y":0.844},{"s":"33835N","x":2.3435,"y":0.841},{"s":"33835N","x":2.3445,"y":0.837},{"s":"33835N","x":2.3455,"y":0.834},{"s":"33835N","x":2.3465,"y":0.838},{"s":"33835N","x":2.3475,"y":0.836},{"s":"33835N","x":2.349,"y":0.842},{"s":"33835N","x":2.351,"y":0.838},{"s":"33835N","x":2.353,"y":0.841},{"s":"33835N","x":2.355,"y":0.839},{"s":"33835N","x":2.357,"y":0.843},{"s":"33835N","x":2.359,"y":0.838},{"s":"33835N","x":2.36,"y":0.837},
{"s":"38400N","x":2.32,"y":0.79},{"s":"38400N","x":2.322,"y":0.783},{"s":"38400N","x":2.324,"y":0.785},{"s":"38400N","x":2.326,"y":0.78},{"s":"38400N","x":2.328,"y":0.785},{"s":"38400N","x":2.33,"y":0.782},{"s":"38400N","x":2.332,"y":0.786},{"s":"38400N","x":2.334,"y":0.78},{"s":"38400N","x":2.3355,"y":0.79},{"s":"38400N","x":2.3365,"y":0.783},{"s":"38400N","x":2.3375,"y":0.789},{"s":"38400N","x":2.3385,"y":0.802},{"s":"38400N","x":2.3395,"y":0.812},{"s":"38400N","x":2.3405,"y":0.827},{"s":"38400N","x":2.3415,"y":0.837},{"s":"38400N","x":2.3425,"y":0.841},{"s":"38400N","x":2.3435,"y":0.84},{"s":"38400N","x":2.3445,"y":0.836},{"s":"38400N","x":2.3455,"y":0.835},{"s":"38400N","x":2.3465,"y":0.837},{"s":"38400N","x":2.3475,"y":0.836},{"s":"38400N","x":2.349,"y":0.841},{"s":"38400N","x":2.351,"y":0.837},{"s":"38400N","x":2.353,"y":0.841},{"s":"38400N","x":2.355,"y":0.838},{"s":"38400N","x":2.357,"y":0.841},{"s":"38400N","x":2.359,"y":0.838},{"s":"38400N","x":2.36,"y":0.837},
{"s":"50N","x":2.32,"y":0.791},{"s":"50N","x":2.322,"y":0.782},{"s":"50N","x":2.324,"y":0.786},{"s":"50N","x":2.326,"y":0.781},{"s":"50N","x":2.328,"y":0.785},{"s":"50N","x":2.33,"y":0.781},{"s":"50N","x":2.332,"y":0.786},{"s":"50N","x":2.334,"y":0.781},{"s":"50N","x":2.3355,"y":0.788},{"s":"50N","x":2.3365,"y":0.781},{"s":"50N","x":2.3375,"y":0.779},{"s":"50N","x":2.3385,"y":0.786},{"s":"50N","x":2.3395,"y":0.795},{"s":"50N","x":2.3405,"y":0.803},{"s":"50N","x":2.3415,"y":0.812},{"s":"50N","x":2.3425,"y":0.822},{"s":"50N","x":2.3435,"y":0.829},{"s":"50N","x":2.3445,"y":0.826},{"s":"50N","x":2.3455,"y":0.831},{"s":"50N","x":2.3465,"y":0.836},{"s":"50N","x":2.3475,"y":0.834},{"s":"50N","x":2.349,"y":0.84},{"s":"50N","x":2.351,"y":0.838},{"s":"50N","x":2.353,"y":0.842},{"s":"50N","x":2.355,"y":0.838},{"s":"50N","x":2.357,"y":0.841},{"s":"50N","x":2.359,"y":0.838},{"s":"50N","x":2.36,"y":0.836},
{"s":"Re50N","x":2.32,"y":0.79},{"s":"Re50N","x":2.322,"y":0.783},{"s":"Re50N","x":2.324,"y":0.785},{"s":"Re50N","x":2.326,"y":0.782},{"s":"Re50N","x":2.328,"y":0.786},{"s":"Re50N","x":2.33,"y":0.78},{"s":"Re50N","x":2.332,"y":0.785},{"s":"Re50N","x":2.334,"y":0.78},{"s":"Re50N","x":2.3355,"y":0.786},{"s":"Re50N","x":2.3365,"y":0.78},{"s":"Re50N","x":2.3375,"y":0.777},{"s":"Re50N","x":2.3385,"y":0.781},{"s":"Re50N","x":2.3395,"y":0.787},{"s":"Re50N","x":2.3405,"y":0.797},{"s":"Re50N","x":2.3415,"y":0.803},{"s":"Re50N","x":2.3425,"y":0.815},{"s":"Re50N","x":2.3435,"y":0.826},{"s":"Re50N","x":2.3445,"y":0.829},{"s":"Re50N","x":2.3455,"y":0.827},{"s":"Re50N","x":2.3465,"y":0.815},{"s":"Re50N","x":2.3475,"y":0.833},{"s":"Re50N","x":2.349,"y":0.839},{"s":"Re50N","x":2.351,"y":0.839},{"s":"Re50N","x":2.353,"y":0.841},{"s":"Re50N","x":2.355,"y":0.838},{"s":"Re50N","x":2.357,"y":0.842},{"s":"Re50N","x":2.359,"y":0.839},{"s":"Re50N","x":2.36,"y":0.837}
],
"RB":[
{"s":"12720N","x":2.32,"y":0.788},{"s":"12720N","x":2.322,"y":0.797},{"s":"12720N","x":2.324,"y":0.783},{"s":"12720N","x":2.326,"y":0.787},{"s":"12720N","x":2.328,"y":0.78},{"s":"12720N","x":2.33,"y":0.786},{"s":"12720N","x":2.332,"y":0.779},{"s":"12720N","x":2.334,"y":0.784},{"s":"12720N","x":2.3355,"y":0.786},{"s":"12720N","x":2.3365,"y":0.782},{"s":"12720N","x":2.3375,"y":0.79},{"s":"12720N","x":2.3385,"y":0.804},{"s":"12720N","x":2.3395,"y":0.819},{"s":"12720N","x":2.3405,"y":0.83},{"s":"12720N","x":2.3415,"y":0.833},{"s":"12720N","x":2.3425,"y":0.834},{"s":"12720N","x":2.3435,"y":0.841},{"s":"12720N","x":2.3445,"y":0.834},{"s":"12720N","x":2.3455,"y":0.844},{"s":"12720N","x":2.3465,"y":0.837},{"s":"12720N","x":2.3475,"y":0.846},{"s":"12720N","x":2.349,"y":0.839},{"s":"12720N","x":2.351,"y":0.843},{"s":"12720N","x":2.353,"y":0.841},{"s":"12720N","x":2.355,"y":0.843},{"s":"12720N","x":2.357,"y":0.839},{"s":"12720N","x":2.359,"y":0.838},{"s":"12720N","x":2.36,"y":0.844},
{"s":"19150N","x":2.32,"y":0.79},{"s":"19150N","x":2.322,"y":0.794},{"s":"19150N","x":2.324,"y":0.785},{"s":"19150N","x":2.326,"y":0.785},{"s":"19150N","x":2.328,"y":0.782},{"s":"19150N","x":2.33,"y":0.784},{"s":"19150N","x":2.332,"y":0.777},{"s":"19150N","x":2.334,"y":0.782},{"s":"19150N","x":2.3355,"y":0.784},{"s":"19150N","x":2.3365,"y":0.784},{"s":"19150N","x":2.3375,"y":0.793},{"s":"19150N","x":2.3385,"y":0.805},{"s":"19150N","x":2.3395,"y":0.82},{"s":"19150N","x":2.3405,"y":0.83},{"s":"19150N","x":2.3415,"y":0.832},{"s":"19150N","x":2.3425,"y":0.836},{"s":"19150N","x":2.3435,"y":0.845},{"s":"19150N","x":2.3445,"y":0.832},{"s":"19150N","x":2.3455,"y":0.842},{"s":"19150N","x":2.3465,"y":0.835},{"s":"19150N","x":2.3475,"y":0.844},{"s":"19150N","x":2.349,"y":0.838},{"s":"19150N","x":2.351,"y":0.841},{"s":"19150N","x":2.353,"y":0.84},{"s":"19150N","x":2.355,"y":0.842},{"s":"19150N","x":2.357,"y":0.837},{"s":"19150N","x":2.359,"y":0.84},{"s":"19150N","x":2.36,"y":0.851},
{"s":"24590N","x":2.32,"y":0.786},{"s":"24590N","x":2.322,"y":0.793},{"s":"24590N","x":2.324,"y":0.784},{"s":"24590N","x":2.326,"y":0.787},{"s":"24590N","x":2.328,"y":0.781},{"s":"24590N","x":2.33,"y":0.785},{"s":"24590N","x":2.332,"y":0.779},{"s":"24590N","x":2.334,"y":0.783},{"s":"24590N","x":2.3355,"y":0.786},{"s":"24590N","x":2.3365,"y":0.783},{"s":"24590N","x":2.3375,"y":0.792},{"s":"24590N","x":2.3385,"y":0.806},{"s":"24590N","x":2.3395,"y":0.817},{"s":"24590N","x":2.3405,"y":0.828},{"s":"24590N","x":2.3415,"y":0.831},{"s":"24590N","x":2.3425,"y":0.835},{"s":"24590N","x":2.3435,"y":0.841},{"s":"24590N","x":2.3445,"y":0.834},{"s":"24590N","x":2.3455,"y":0.842},{"s":"24590N","x":2.3465,"y":0.836},{"s":"24590N","x":2.3475,"y":0.844},{"s":"24590N","x":2.349,"y":0.837},{"s":"24590N","x":2.351,"y":0.842},{"s":"24590N","x":2.353,"y":0.839},{"s":"24590N","x":2.355,"y":0.841},{"s":"24590N","x":2.357,"y":0.838},{"s":"24590N","x":2.359,"y":0.839},{"s":"24590N","x":2.36,"y":0.843},
{"s":"29270N","x":2.32,"y":0.787},{"s":"29270N","x":2.322,"y":0.796},{"s":"29270N","x":2.324,"y":0.784},{"s":"29270N","x":2.326,"y":0.786},{"s":"29270N","x":2.328,"y":0.781},{"s":"29270N","x":2.33,"y":0.785},{"s":"29270N","x":2.332,"y":0.778},{"s":"29270N","x":2.334,"y":0.783},{"s":"29270N","x":2.3355,"y":0.785},{"s":"29270N","x":2.3365,"y":0.783},{"s":"29270N","x":2.3375,"y":0.791},{"s":"29270N","x":2.3385,"y":0.803},{"s":"29270N","x":2.3395,"y":0.818},{"s":"29270N","x":2.3405,"y":0.829},{"s":"29270N","x":2.3415,"y":0.832},{"s":"29270N","x":2.3425,"y":0.835},{"s":"29270N","x":2.3435,"y":0.842},{"s":"29270N","x":2.3445,"y":0.833},{"s":"29270N","x":2.3455,"y":0.843},{"s":"29270N","x":2.3465,"y":0.836},{"s":"29270N","x":2.3475,"y":0.845},{"s":"29270N","x":2.349,"y":0.838},{"s":"29270N","x":2.351,"y":0.842},{"s":"29270N","x":2.353,"y":0.84},{"s":"29270N","x":2.355,"y":0.842},{"s":"29270N","x":2.357,"y":0.838},{"s":"29270N","x":2.359,"y":0.84},{"s":"29270N","x":2.36,"y":0.845},
{"s":"33835N","x":2.32,"y":0.788},{"s":"33835N","x":2.322,"y":0.795},{"s":"33835N","x":2.324,"y":0.783},{"s":"33835N","x":2.326,"y":0.786},{"s":"33835N","x":2.328,"y":0.782},{"s":"33835N","x":2.33,"y":0.784},{"s":"33835N","x":2.332,"y":0.778},{"s":"33835N","x":2.334,"y":0.782},{"s":"33835N","x":2.3355,"y":0.785},{"s":"33835N","x":2.3365,"y":0.782},{"s":"33835N","x":2.3375,"y":0.79},{"s":"33835N","x":2.3385,"y":0.802},{"s":"33835N","x":2.3395,"y":0.817},{"s":"33835N","x":2.3405,"y":0.829},{"s":"33835N","x":2.3415,"y":0.833},{"s":"33835N","x":2.3425,"y":0.836},{"s":"33835N","x":2.3435,"y":0.843},{"s":"33835N","x":2.3445,"y":0.834},{"s":"33835N","x":2.3455,"y":0.843},{"s":"33835N","x":2.3465,"y":0.837},{"s":"33835N","x":2.3475,"y":0.845},{"s":"33835N","x":2.349,"y":0.839},{"s":"33835N","x":2.351,"y":0.842},{"s":"33835N","x":2.353,"y":0.841},{"s":"33835N","x":2.355,"y":0.842},{"s":"33835N","x":2.357,"y":0.838},{"s":"33835N","x":2.359,"y":0.841},{"s":"33835N","x":2.36,"y":0.846},
{"s":"38400N","x":2.32,"y":0.787},{"s":"38400N","x":2.322,"y":0.794},{"s":"38400N","x":2.324,"y":0.785},{"s":"38400N","x":2.326,"y":0.786},{"s":"38400N","x":2.328,"y":0.781},{"s":"38400N","x":2.33,"y":0.785},{"s":"38400N","x":2.332,"y":0.778},{"s":"38400N","x":2.334,"y":0.783},{"s":"38400N","x":2.3355,"y":0.785},{"s":"38400N","x":2.3365,"y":0.783},{"s":"38400N","x":2.3375,"y":0.792},{"s":"38400N","x":2.3385,"y":0.804},{"s":"38400N","x":2.3395,"y":0.818},{"s":"38400N","x":2.3405,"y":0.828},{"s":"38400N","x":2.3415,"y":0.831},{"s":"38400N","x":2.3425,"y":0.834},{"s":"38400N","x":2.3435,"y":0.841},{"s":"38400N","x":2.3445,"y":0.833},{"s":"38400N","x":2.3455,"y":0.842},{"s":"38400N","x":2.3465,"y":0.836},{"s":"38400N","x":2.3475,"y":0.844},{"s":"38400N","x":2.349,"y":0.837},{"s":"38400N","x":2.351,"y":0.841},{"s":"38400N","x":2.353,"y":0.839},{"s":"38400N","x":2.355,"y":0.841},{"s":"38400N","x":2.357,"y":0.837},{"s":"38400N","x":2.359,"y":0.839},{"s":"38400N","x":2.36,"y":0.844},
{"s":"50N","x":2.32,"y":0.787},{"s":"50N","x":2.322,"y":0.796},{"s":"50N","x":2.324,"y":0.784},{"s":"50N","x":2.326,"y":0.786},{"s":"50N","x":2.328,"y":0.781},{"s":"50N","x":2.33,"y":0.785},{"s":"50N","x":2.332,"y":0.774},{"s":"50N","x":2.334,"y":0.782},{"s":"50N","x":2.3355,"y":0.783},{"s":"50N","x":2.3365,"y":0.781},{"s":"50N","x":2.3375,"y":0.784},{"s":"50N","x":2.3385,"y":0.791},{"s":"50N","x":2.3395,"y":0.8},{"s":"50N","x":2.3405,"y":0.81},{"s":"50N","x":2.3415,"y":0.82},{"s":"50N","x":2.3425,"y":0.826},{"s":"50N","x":2.3435,"y":0.833},{"s":"50N","x":2.3445,"y":0.838},{"s":"50N","x":2.3455,"y":0.84},{"s":"50N","x":2.3465,"y":0.836},{"s":"50N","x":2.3475,"y":0.843},{"s":"50N","x":2.349,"y":0.838},{"s":"50N","x":2.351,"y":0.841},{"s":"50N","x":2.353,"y":0.839},{"s":"50N","x":2.355,"y":0.841},{"s":"50N","x":2.357,"y":0.837},{"s":"50N","x":2.359,"y":0.839},{"s":"50N","x":2.36,"y":0.843},
{"s":"Re50N","x":2.32,"y":0.786},{"s":"Re50N","x":2.322,"y":0.795},{"s":"Re50N","x":2.324,"y":0.783},{"s":"Re50N","x":2.326,"y":0.785},{"s":"Re50N","x":2.328,"y":0.78},{"s":"Re50N","x":2.33,"y":0.784},{"s":"Re50N","x":2.332,"y":0.776},{"s":"Re50N","x":2.334,"y":0.781},{"s":"Re50N","x":2.3355,"y":0.781},{"s":"Re50N","x":2.3365,"y":0.78},{"s":"Re50N","x":2.3375,"y":0.783},{"s":"Re50N","x":2.3385,"y":0.787},{"s":"Re50N","x":2.3395,"y":0.795},{"s":"Re50N","x":2.3405,"y":0.803},{"s":"Re50N","x":2.3415,"y":0.815},{"s":"Re50N","x":2.3425,"y":0.822},{"s":"Re50N","x":2.3435,"y":0.829},{"s":"Re50N","x":2.3445,"y":0.836},{"s":"Re50N","x":2.3455,"y":0.838},{"s":"Re50N","x":2.3465,"y":0.834},{"s":"Re50N","x":2.3475,"y":0.842},{"s":"Re50N","x":2.349,"y":0.837},{"s":"Re50N","x":2.351,"y":0.84},{"s":"Re50N","x":2.353,"y":0.838},{"s":"Re50N","x":2.355,"y":0.84},{"s":"Re50N","x":2.357,"y":0.836},{"s":"Re50N","x":2.359,"y":0.838},{"s":"Re50N","x":2.36,"y":0.842}
],
"RC":[
{"s":"12720N","x":2.32,"y":0.792},{"s":"12720N","x":2.322,"y":0.786},{"s":"12720N","x":2.324,"y":0.791},{"s":"12720N","x":2.326,"y":0.785},{"s":"12720N","x":2.328,"y":0.788},{"s":"12720N","x":2.33,"y":0.783},{"s":"12720N","x":2.332,"y":0.787},{"s":"12720N","x":2.334,"y":0.781},{"s":"12720N","x":2.3355,"y":0.789},{"s":"12720N","x":2.3365,"y":0.789},{"s":"12720N","x":2.3375,"y":0.797},{"s":"12720N","x":2.3385,"y":0.812},{"s":"12720N","x":2.3395,"y":0.821},{"s":"12720N","x":2.3405,"y":0.831},{"s":"12720N","x":2.3415,"y":0.837},{"s":"12720N","x":2.3425,"y":0.846},{"s":"12720N","x":2.3435,"y":0.842},{"s":"12720N","x":2.3445,"y":0.841},{"s":"12720N","x":2.3455,"y":0.844},{"s":"12720N","x":2.3465,"y":0.839},{"s":"12720N","x":2.3475,"y":0.845},{"s":"12720N","x":2.349,"y":0.84},{"s":"12720N","x":2.351,"y":0.844},{"s":"12720N","x":2.353,"y":0.843},{"s":"12720N","x":2.355,"y":0.843},{"s":"12720N","x":2.357,"y":0.847},{"s":"12720N","x":2.359,"y":0.842},{"s":"12720N","x":2.36,"y":0.842},
{"s":"19150N","x":2.32,"y":0.79},{"s":"19150N","x":2.322,"y":0.788},{"s":"19150N","x":2.324,"y":0.792},{"s":"19150N","x":2.326,"y":0.787},{"s":"19150N","x":2.328,"y":0.786},{"s":"19150N","x":2.33,"y":0.785},{"s":"19150N","x":2.332,"y":0.787},{"s":"19150N","x":2.334,"y":0.783},{"s":"19150N","x":2.3355,"y":0.79},{"s":"19150N","x":2.3365,"y":0.791},{"s":"19150N","x":2.3375,"y":0.797},{"s":"19150N","x":2.3385,"y":0.81},{"s":"19150N","x":2.3395,"y":0.823},{"s":"19150N","x":2.3405,"y":0.831},{"s":"19150N","x":2.3415,"y":0.839},{"s":"19150N","x":2.3425,"y":0.846},{"s":"19150N","x":2.3435,"y":0.844},{"s":"19150N","x":2.3445,"y":0.839},{"s":"19150N","x":2.3455,"y":0.844},{"s":"19150N","x":2.3465,"y":0.841},{"s":"19150N","x":2.3475,"y":0.845},{"s":"19150N","x":2.349,"y":0.842},{"s":"19150N","x":2.351,"y":0.842},{"s":"19150N","x":2.353,"y":0.845},{"s":"19150N","x":2.355,"y":0.841},{"s":"19150N","x":2.357,"y":0.844},{"s":"19150N","x":2.359,"y":0.844},{"s":"19150N","x":2.36,"y":0.844},
{"s":"24590N","x":2.32,"y":0.791},{"s":"24590N","x":2.322,"y":0.787},{"s":"24590N","x":2.324,"y":0.789},{"s":"24590N","x":2.326,"y":0.786},{"s":"24590N","x":2.328,"y":0.788},{"s":"24590N","x":2.33,"y":0.784},{"s":"24590N","x":2.332,"y":0.785},{"s":"24590N","x":2.334,"y":0.782},{"s":"24590N","x":2.3355,"y":0.787},{"s":"24590N","x":2.3365,"y":0.79},{"s":"24590N","x":2.3375,"y":0.796},{"s":"24590N","x":2.3385,"y":0.812},{"s":"24590N","x":2.3395,"y":0.822},{"s":"24590N","x":2.3405,"y":0.829},{"s":"24590N","x":2.3415,"y":0.838},{"s":"24590N","x":2.3425,"y":0.845},{"s":"24590N","x":2.3435,"y":0.843},{"s":"24590N","x":2.3445,"y":0.841},{"s":"24590N","x":2.3455,"y":0.842},{"s":"24590N","x":2.3465,"y":0.84},{"s":"24590N","x":2.3475,"y":0.843},{"s":"24590N","x":2.349,"y":0.841},{"s":"24590N","x":2.351,"y":0.843},{"s":"24590N","x":2.353,"y":0.844},{"s":"24590N","x":2.355,"y":0.842},{"s":"24590N","x":2.357,"y":0.845},{"s":"24590N","x":2.359,"y":0.843},{"s":"24590N","x":2.36,"y":0.842},
{"s":"29270N","x":2.32,"y":0.79},{"s":"29270N","x":2.322,"y":0.787},{"s":"29270N","x":2.324,"y":0.79},{"s":"29270N","x":2.326,"y":0.786},{"s":"29270N","x":2.328,"y":0.787},{"s":"29270N","x":2.33,"y":0.784},{"s":"29270N","x":2.332,"y":0.786},{"s":"29270N","x":2.334,"y":0.782},{"s":"29270N","x":2.3355,"y":0.788},{"s":"29270N","x":2.3365,"y":0.789},{"s":"29270N","x":2.3375,"y":0.795},{"s":"29270N","x":2.3385,"y":0.81},{"s":"29270N","x":2.3395,"y":0.821},{"s":"29270N","x":2.3405,"y":0.83},{"s":"29270N","x":2.3415,"y":0.838},{"s":"29270N","x":2.3425,"y":0.844},{"s":"29270N","x":2.3435,"y":0.843},{"s":"29270N","x":2.3445,"y":0.84},{"s":"29270N","x":2.3455,"y":0.843},{"s":"29270N","x":2.3465,"y":0.84},{"s":"29270N","x":2.3475,"y":0.844},{"s":"29270N","x":2.349,"y":0.841},{"s":"29270N","x":2.351,"y":0.843},{"s":"29270N","x":2.353,"y":0.844},{"s":"29270N","x":2.355,"y":0.842},{"s":"29270N","x":2.357,"y":0.845},{"s":"29270N","x":2.359,"y":0.843},{"s":"29270N","x":2.36,"y":0.843},
{"s":"33835N","x":2.32,"y":0.791},{"s":"33835N","x":2.322,"y":0.786},{"s":"33835N","x":2.324,"y":0.79},{"s":"33835N","x":2.326,"y":0.787},{"s":"33835N","x":2.328,"y":0.787},{"s":"33835N","x":2.33,"y":0.785},{"s":"33835N","x":2.332,"y":0.786},{"s":"33835N","x":2.334,"y":0.782},{"s":"33835N","x":2.3355,"y":0.789},{"s":"33835N","x":2.3365,"y":0.79},{"s":"33835N","x":2.3375,"y":0.797},{"s":"33835N","x":2.3385,"y":0.811},{"s":"33835N","x":2.3395,"y":0.823},{"s":"33835N","x":2.3405,"y":0.83},{"s":"33835N","x":2.3415,"y":0.839},{"s":"33835N","x":2.3425,"y":0.845},{"s":"33835N","x":2.3435,"y":0.843},{"s":"33835N","x":2.3445,"y":0.84},{"s":"33835N","x":2.3455,"y":0.843},{"s":"33835N","x":2.3465,"y":0.841},{"s":"33835N","x":2.3475,"y":0.844},{"s":"33835N","x":2.349,"y":0.841},{"s":"33835N","x":2.351,"y":0.843},{"s":"33835N","x":2.353,"y":0.844},{"s":"33835N","x":2.355,"y":0.842},{"s":"33835N","x":2.357,"y":0.846},{"s":"33835N","x":2.359,"y":0.843},{"s":"33835N","x":2.36,"y":0.843},
{"s":"38400N","x":2.32,"y":0.791},{"s":"38400N","x":2.322,"y":0.787},{"s":"38400N","x":2.324,"y":0.79},{"s":"38400N","x":2.326,"y":0.786},{"s":"38400N","x":2.328,"y":0.788},{"s":"38400N","x":2.33,"y":0.784},{"s":"38400N","x":2.332,"y":0.786},{"s":"38400N","x":2.334,"y":0.782},{"s":"38400N","x":2.3355,"y":0.788},{"s":"38400N","x":2.3365,"y":0.79},{"s":"38400N","x":2.3375,"y":0.796},{"s":"38400N","x":2.3385,"y":0.811},{"s":"38400N","x":2.3395,"y":0.822},{"s":"38400N","x":2.3405,"y":0.83},{"s":"38400N","x":2.3415,"y":0.838},{"s":"38400N","x":2.3425,"y":0.845},{"s":"38400N","x":2.3435,"y":0.843},{"s":"38400N","x":2.3445,"y":0.84},{"s":"38400N","x":2.3455,"y":0.843},{"s":"38400N","x":2.3465,"y":0.84},{"s":"38400N","x":2.3475,"y":0.844},{"s":"38400N","x":2.349,"y":0.841},{"s":"38400N","x":2.351,"y":0.843},{"s":"38400N","x":2.353,"y":0.844},{"s":"38400N","x":2.355,"y":0.842},{"s":"38400N","x":2.357,"y":0.845},{"s":"38400N","x":2.359,"y":0.843},{"s":"38400N","x":2.36,"y":0.843},
{"s":"50N","x":2.32,"y":0.788},{"s":"50N","x":2.322,"y":0.784},{"s":"50N","x":2.324,"y":0.786},{"s":"50N","x":2.326,"y":0.783},{"s":"50N","x":2.328,"y":0.784},{"s":"50N","x":2.33,"y":0.781},{"s":"50N","x":2.332,"y":0.783},{"s":"50N","x":2.334,"y":0.779},{"s":"50N","x":2.3355,"y":0.783},{"s":"50N","x":2.3365,"y":0.782},{"s":"50N","x":2.3375,"y":0.784},{"s":"50N","x":2.3385,"y":0.79},{"s":"50N","x":2.3395,"y":0.8},{"s":"50N","x":2.3405,"y":0.811},{"s":"50N","x":2.3415,"y":0.822},{"s":"50N","x":2.3425,"y":0.829},{"s":"50N","x":2.3435,"y":0.834},{"s":"50N","x":2.3445,"y":0.838},{"s":"50N","x":2.3455,"y":0.839},{"s":"50N","x":2.3465,"y":0.84},{"s":"50N","x":2.3475,"y":0.842},{"s":"50N","x":2.349,"y":0.84},{"s":"50N","x":2.351,"y":0.842},{"s":"50N","x":2.353,"y":0.843},{"s":"50N","x":2.355,"y":0.841},{"s":"50N","x":2.357,"y":0.844},{"s":"50N","x":2.359,"y":0.842},{"s":"50N","x":2.36,"y":0.842},
{"s":"Re50N","x":2.32,"y":0.787},{"s":"Re50N","x":2.322,"y":0.783},{"s":"Re50N","x":2.324,"y":0.785},{"s":"Re50N","x":2.326,"y":0.782},{"s":"Re50N","x":2.328,"y":0.783},{"s":"Re50N","x":2.33,"y":0.78},{"s":"Re50N","x":2.332,"y":0.782},{"s":"Re50N","x":2.334,"y":0.778},{"s":"Re50N","x":2.3355,"y":0.785},{"s":"Re50N","x":2.3365,"y":0.783},{"s":"Re50N","x":2.3375,"y":0.782},{"s":"Re50N","x":2.3385,"y":0.784},{"s":"Re50N","x":2.3395,"y":0.795},{"s":"Re50N","x":2.3405,"y":0.806},{"s":"Re50N","x":2.3415,"y":0.813},{"s":"Re50N","x":2.3425,"y":0.822},{"s":"Re50N","x":2.3435,"y":0.83},{"s":"Re50N","x":2.3445,"y":0.835},{"s":"Re50N","x":2.3455,"y":0.837},{"s":"Re50N","x":2.3465,"y":0.838},{"s":"Re50N","x":2.3475,"y":0.84},{"s":"Re50N","x":2.349,"y":0.84},{"s":"Re50N","x":2.351,"y":0.841},{"s":"Re50N","x":2.353,"y":0.842},{"s":"Re50N","x":2.355,"y":0.84},{"s":"Re50N","x":2.357,"y":0.843},{"s":"Re50N","x":2.359,"y":0.841},{"s":"Re50N","x":2.36,"y":0.841}
]
},
"concat":[
{"width":204,"height":122,
"title":{"text":"(Decrease of austenite phase)","font":"Liberation Serif","fontSize":14,"fontWeight":"bold","anchor":"middle","frame":"group","baseline":"bottom","offset":10,"dx":-2,"color":"black"},
"layer":[
{"data":{"name":"LA"},"mark":{"type":"line","clip":true},
"encoding":{
"x":{"field":"x","type":"quantitative","scale":{"domain":[2.3,2.8],"nice":false,"zero":false},"axis":{"values":[2.3,2.4,2.5,2.6,2.7,2.8],"format":".1f","title":"wavelength / Å"}},
"y":{"field":"y","type":"quantitative","scale":{"domain":[0.8,0.86],"nice":false,"zero":false},"axis":{"values":[0.8,0.81,0.82,0.83,0.84,0.85,0.86],"format":".2f","title":"Transmission"}},
"color":{"field":"s","type":"nominal","scale":{"domain":["50N","12720N","19150N","24590N","29270N","33835N","38400N","Re50N"],"range":["#222222","#f03c3c","#3c3cdc","#f5b43c","#f03c3c","#3c3cdc","#f5b43c","#555555"]},"legend":{"title":null,"orient":"none","legendX":155,"legendY":9,"padding":3,"labelFontSize":6.5,"labelOffset":3,"symbolType":"stroke","symbolSize":60}},
"strokeDash":{"field":"s","type":"nominal","scale":{"domain":["50N","12720N","19150N","24590N","29270N","33835N","38400N","Re50N"],"range":[[1,0],[1,0],[1,0],[1,0],[2,1.5],[2,1.5],[2,1.5],[3,2]]}},
"strokeWidth":{"field":"s","type":"nominal","scale":{"type":"ordinal","domain":["50N","12720N","19150N","24590N","29270N","33835N","38400N","Re50N"],"range":[1,1.6,1.8,1.6,1.1,1.1,1.1,1]}}
}},
{"data":{"values":[{}]},"mark":{"type":"rect","fill":"white","stroke":"#333","strokeWidth":1.5},"encoding":{"x":{"datum":2.3123},"x2":{"datum":2.4642},"y":{"datum":0.86344},"y2":{"datum":0.8541}}},
{"data":{"values":[{}]},"mark":{"type":"text","text":"Position A","font":"Liberation Sans","fontWeight":"bold","fontSize":11,"align":"center","baseline":"middle","color":"black"},"encoding":{"x":{"datum":2.38825},"y":{"datum":0.85877}}},
{"data":{"values":[{}]},"mark":{"type":"point","shape":"M -1 0 A 1 0.536 0 1 1 1 0 A 1 0.536 0 1 1 -1 0 Z","size":7056,"filled":false,"stroke":"black","strokeWidth":1,"strokeDash":[4,3],"opacity":1},"encoding":{"x":{"datum":2.5377},"y":{"datum":0.8243}}},
{"data":{"values":[{}]},"mark":{"type":"text","text":"γ(220) Bragg-edge","font":"Liberation Sans","fontWeight":"bold","fontSize":11,"align":"center","baseline":"middle","color":"black"},"encoding":{"x":{"datum":2.5414},"y":{"datum":0.84328}}},
{"data":{"values":[{}]},"mark":{"type":"rule","stroke":"black","strokeWidth":1},"encoding":{"x":{"datum":2.4275},"x2":{"datum":2.6554},"y":{"datum":0.84107}}}
]},
{"width":204,"height":122,
"title":{"text":"(Increase in martensite phase)","font":"Liberation Serif","fontSize":14,"fontWeight":"bold","anchor":"middle","frame":"group","baseline":"bottom","offset":10,"dx":1,"color":"black"},
"layer":[
{"data":{"name":"RA"},"mark":{"type":"line","clip":true,"strokeWidth":0.8},
"encoding":{
"x":{"field":"x","type":"quantitative","scale":{"domain":[2.32,2.36],"nice":false,"zero":false},"axis":{"values":[2.32,2.33,2.34,2.35,2.36],"format":".2f","title":"wavelength / Å"}},
"y":{"field":"y","type":"quantitative","scale":{"domain":[0.76,0.88],"nice":false,"zero":false},"axis":{"values":[0.76,0.78,0.8,0.82,0.84,0.86,0.88],"format":".2f","title":"Transmission"}},
"color":{"field":"s","type":"nominal","scale":{"domain":["50N","12720N","19150N","24590N","29270N","33835N","38400N","Re50N"],"range":["#000000","#e8001c","#1010e0","#f0a000","#e8001c","#1010e0","#e09000","#000000"]},"legend":{"title":null,"orient":"none","legendX":16,"legendY":10,"padding":2,"labelFontSize":5.5,"labelOffset":4,"symbolSize":12,"labelExpr":"datum.label == '29270N' ? '292700N' : datum.label"}}
}},
{"data":{"name":"RA"},"mark":{"type":"point","clip":true,"filled":true,"size":9,"opacity":1},
"encoding":{
"x":{"field":"x","type":"quantitative"},
"y":{"field":"y","type":"quantitative"},
"color":{"field":"s","type":"nominal","legend":{"title":null,"orient":"none","legendX":16,"legendY":10,"padding":2,"labelFontSize":5.5,"labelOffset":4,"symbolSize":12,"labelExpr":"datum.label == '29270N' ? '292700N' : datum.label"}},
"shape":{"field":"s","type":"nominal","scale":{"domain":["50N","12720N","19150N","24590N","29270N","33835N","38400N","Re50N"],"range":["circle","square","circle","circle","square","square","square","square"]},"legend":{"title":null,"orient":"none","legendX":16,"legendY":10,"padding":2,"labelFontSize":5.5,"labelOffset":4,"symbolSize":12,"labelExpr":"datum.label == '29270N' ? '292700N' : datum.label"}}
}},
{"data":{"values":[{}]},"mark":{"type":"rect","fill":"white","stroke":"#333","strokeWidth":1.5},"encoding":{"x":{"datum":2.32098},"x2":{"datum":2.33314},"y":{"datum":0.88689},"y2":{"datum":0.8682}}},
{"data":{"values":[{}]},"mark":{"type":"text","text":"Position A","font":"Liberation Sans","fontWeight":"bold","fontSize":11,"align":"center","baseline":"middle","color":"black"},"encoding":{"x":{"datum":2.32706},"y":{"datum":0.87754}}},
{"data":{"values":[{}]},"mark":{"type":"point","shape":"circle","size":5675,"filled":false,"stroke":"black","strokeWidth":1,"strokeDash":[4,3],"opacity":1},"encoding":{"x":{"datum":2.33902},"y":{"datum":0.8082}}},
{"data":{"values":[{}]},"mark":{"type":"text","text":"α and α′(211)Bragg-edge","font":"Liberation Sans","fontWeight":"bold","fontSize":11,"align":"center","baseline":"middle","color":"black"},"encoding":{"x":{"datum":2.34608},"y":{"datum":0.86721}}},
{"data":{"values":[{}]},"mark":{"type":"rule","stroke":"black","strokeWidth":1},"encoding":{"x":{"datum":2.33353},"x2":{"datum":2.35863},"y":{"datum":0.86161}}}
]},
{"width":204,"height":122,
"layer":[
{"data":{"name":"LB"},"mark":{"type":"line","clip":true},
"encoding":{
"x":{"field":"x","type":"quantitative","scale":{"domain":[2.3,2.8],"nice":false,"zero":false},"axis":{"values":[2.3,2.4,2.5,2.6,2.7,2.8],"format":".1f","title":"wavelength / Å"}},
"y":{"field":"y","type":"quantitative","scale":{"domain":[0.8,0.86],"nice":false,"zero":false},"axis":{"values":[0.8,0.81,0.82,0.83,0.84,0.85,0.86],"format":".2f","title":"Transmission"}},
"color":{"field":"s","type":"nominal","scale":{"domain":["50N","12720N","19150N","24590N","29270N","33835N","38400N","Re50N"],"range":["#222222","#f03c3c","#3c3cdc","#f5b43c","#f03c3c","#3c3cdc","#f5b43c","#555555"]},"legend":{"title":null,"orient":"none","legendX":155,"legendY":9,"padding":3,"labelFontSize":6.5,"labelOffset":3,"symbolType":"stroke","symbolSize":60}},
"strokeDash":{"field":"s","type":"nominal","scale":{"domain":["50N","12720N","19150N","24590N","29270N","33835N","38400N","Re50N"],"range":[[1,0],[1,0],[1,0],[1,0],[2,1.5],[2,1.5],[2,1.5],[3,2]]}},
"strokeWidth":{"field":"s","type":"nominal","scale":{"type":"ordinal","domain":["50N","12720N","19150N","24590N","29270N","33835N","38400N","Re50N"],"range":[1,1.6,1.8,1.6,1.1,1.1,1.1,1]}}
}},
{"data":{"values":[{}]},"mark":{"type":"rect","fill":"white","stroke":"#333","strokeWidth":1.5},"encoding":{"x":{"datum":2.3123},"x2":{"datum":2.4642},"y":{"datum":0.86344},"y2":{"datum":0.8541}}},
{"data":{"values":[{}]},"mark":{"type":"text","text":"Position B","font":"Liberation Sans","fontWeight":"bold","fontSize":11,"align":"center","baseline":"middle","color":"black"},"encoding":{"x":{"datum":2.38825},"y":{"datum":0.85877}}}
]},
{"width":204,"height":122,
"layer":[
{"data":{"name":"RB"},"mark":{"type":"line","clip":true,"strokeWidth":0.8},
"encoding":{
"x":{"field":"x","type":"quantitative","scale":{"domain":[2.32,2.36],"nice":false,"zero":false},"axis":{"values":[2.32,2.33,2.34,2.35,2.36],"format":".2f","title":"wavelength / Å"}},
"y":{"field":"y","type":"quantitative","scale":{"domain":[0.76,0.88],"nice":false,"zero":false},"axis":{"values":[0.76,0.78,0.8,0.82,0.84,0.86,0.88],"format":".2f","title":"Transmission"}},
"color":{"field":"s","type":"nominal","scale":{"domain":["50N","12720N","19150N","24590N","29270N","33835N","38400N","Re50N"],"range":["#000000","#e8001c","#1010e0","#f0a000","#e8001c","#1010e0","#e09000","#000000"]},"legend":{"title":null,"orient":"none","legendX":16,"legendY":10,"padding":2,"labelFontSize":5.5,"labelOffset":4,"symbolSize":12}}
}},
{"data":{"name":"RB"},"mark":{"type":"point","clip":true,"filled":true,"size":9,"opacity":1},
"encoding":{
"x":{"field":"x","type":"quantitative"},
"y":{"field":"y","type":"quantitative"},
"color":{"field":"s","type":"nominal","legend":{"title":null,"orient":"none","legendX":16,"legendY":10,"padding":2,"labelFontSize":5.5,"labelOffset":4,"symbolSize":12}},
"shape":{"field":"s","type":"nominal","scale":{"domain":["50N","12720N","19150N","24590N","29270N","33835N","38400N","Re50N"],"range":["circle","square","circle","circle","square","square","square","square"]},"legend":{"title":null,"orient":"none","legendX":16,"legendY":10,"padding":2,"labelFontSize":5.5,"labelOffset":4,"symbolSize":12}}
}},
{"data":{"values":[{}]},"mark":{"type":"rect","fill":"white","stroke":"#333","strokeWidth":1.5},"encoding":{"x":{"datum":2.32098},"x2":{"datum":2.33314},"y":{"datum":0.88689},"y2":{"datum":0.8682}}},
{"data":{"values":[{}]},"mark":{"type":"text","text":"Position B","font":"Liberation Sans","fontWeight":"bold","fontSize":11,"align":"center","baseline":"middle","color":"black"},"encoding":{"x":{"datum":2.32706},"y":{"datum":0.87754}}}
]},
{"width":204,"height":122,
"layer":[
{"data":{"name":"LC"},"mark":{"type":"line","clip":true},
"encoding":{
"x":{"field":"x","type":"quantitative","scale":{"domain":[2.3,2.8],"nice":false,"zero":false},"axis":{"values":[2.3,2.4,2.5,2.6,2.7,2.8],"format":".1f","title":"wavelength / Å"}},
"y":{"field":"y","type":"quantitative","scale":{"domain":[0.8,0.86],"nice":false,"zero":false},"axis":{"values":[0.8,0.81,0.82,0.83,0.84,0.85,0.86],"format":".2f","title":"Transmission"}},
"color":{"field":"s","type":"nominal","scale":{"domain":["50N","12720N","19150N","24590N","29270N","33835N","38400N","Re50N"],"range":["#222222","#f03c3c","#3c3cdc","#f5b43c","#f03c3c","#3c3cdc","#f5b43c","#555555"]},"legend":{"title":null,"orient":"none","legendX":155,"legendY":9,"padding":3,"labelFontSize":6.5,"labelOffset":3,"symbolType":"stroke","symbolSize":60}},
"strokeDash":{"field":"s","type":"nominal","scale":{"domain":["50N","12720N","19150N","24590N","29270N","33835N","38400N","Re50N"],"range":[[1,0],[1,0],[1,0],[1,0],[2,1.5],[2,1.5],[2,1.5],[3,2]]}},
"strokeWidth":{"field":"s","type":"nominal","scale":{"type":"ordinal","domain":["50N","12720N","19150N","24590N","29270N","33835N","38400N","Re50N"],"range":[1,1.6,1.8,1.6,1.1,1.1,1.1,1]}}
}},
{"data":{"values":[{}]},"mark":{"type":"rect","fill":"white","stroke":"#333","strokeWidth":1.5},"encoding":{"x":{"datum":2.3123},"x2":{"datum":2.4642},"y":{"datum":0.86344},"y2":{"datum":0.8541}}},
{"data":{"values":[{}]},"mark":{"type":"text","text":"Position C","font":"Liberation Sans","fontWeight":"bold","fontSize":11,"align":"center","baseline":"middle","color":"black"},"encoding":{"x":{"datum":2.38825},"y":{"datum":0.85877}}}
]},
{"width":204,"height":122,
"layer":[
{"data":{"name":"RC"},"mark":{"type":"line","clip":true,"strokeWidth":0.8},
"encoding":{
"x":{"field":"x","type":"quantitative","scale":{"domain":[2.32,2.36],"nice":false,"zero":false},"axis":{"values":[2.32,2.33,2.34,2.35,2.36],"format":".2f","title":"wavelength / Å"}},
"y":{"field":"y","type":"quantitative","scale":{"domain":[0.76,0.88],"nice":false,"zero":false},"axis":{"values":[0.76,0.78,0.8,0.82,0.84,0.86,0.88],"format":".2f","title":"Transmission"}},
"color":{"field":"s","type":"nominal","scale":{"domain":["50N","12720N","19150N","24590N","29270N","33835N","38400N","Re50N"],"range":["#000000","#e8001c","#1010e0","#f0a000","#e8001c","#1010e0","#e09000","#000000"]},"legend":{"title":null,"orient":"none","legendX":16,"legendY":10,"padding":2,"labelFontSize":5.5,"labelOffset":4,"symbolSize":12}}
}},
{"data":{"name":"RC"},"mark":{"type":"point","clip":true,"filled":true,"size":9,"opacity":1},
"encoding":{
"x":{"field":"x","type":"quantitative"},
"y":{"field":"y","type":"quantitative"},
"color":{"field":"s","type":"nominal","legend":{"title":null,"orient":"none","legendX":16,"legendY":10,"padding":2,"labelFontSize":5.5,"labelOffset":4,"symbolSize":12}},
"shape":{"field":"s","type":"nominal","scale":{"domain":["50N","12720N","19150N","24590N","29270N","33835N","38400N","Re50N"],"range":["circle","square","circle","circle","square","square","square","square"]},"legend":{"title":null,"orient":"none","legendX":16,"legendY":10,"padding":2,"labelFontSize":5.5,"labelOffset":4,"symbolSize":12}}
}},
{"data":{"values":[{}]},"mark":{"type":"rect","fill":"white","stroke":"#333","strokeWidth":1.5},"encoding":{"x":{"datum":2.32098},"x2":{"datum":2.33314},"y":{"datum":0.88689},"y2":{"datum":0.8682}}},
{"data":{"values":[{}]},"mark":{"type":"text","text":"Position C","font":"Liberation Sans","fontWeight":"bold","fontSize":11,"align":"center","baseline":"middle","color":"black"},"encoding":{"x":{"datum":2.32706},"y":{"datum":0.87754}}}
]}
]
}
